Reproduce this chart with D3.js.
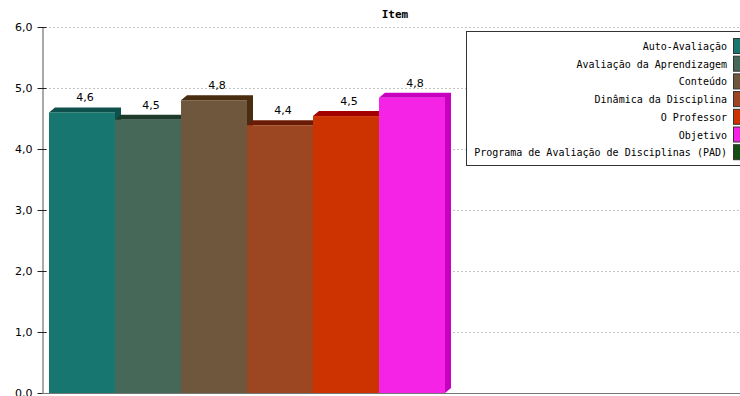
<!DOCTYPE html>
<meta charset="utf-8">
<style>
    body { margin: 0; background: #fff; }
    text { font: 11px "DejaVu Sans", sans-serif; fill: #000; }
    .title { font: bold 11px "DejaVu Sans Mono", monospace; text-anchor: middle; }
    .legend text { font: 10px "DejaVu Sans Mono", monospace; text-anchor: end; }
    .grid line { stroke: #c4c4c4; stroke-dasharray: 2,2; }
</style>
<svg width="740" height="396"></svg>
<script src="https://cdnjs.cloudflare.com/ajax/libs/d3/7.8.5/d3.min.js"></script>
<script>
    var series = ["Auto-Avaliação", "Avaliação da Aprendizagem", "Conteúdo",
        "Dinâmica da Disciplina", "O Professor", "Objetivo",
        "Programa de Avaliação de Disciplinas (PAD)"];
    var values = [4.6, 4.48, 4.8, 4.39, 4.54, 4.84, null];
    var frontColors = ["#177670", "#466858", "#6f573d", "#9c4622", "#cc3300", "#f523e6", "#134d13"];
    var topColors = ["#0e504b", "#1d3b2b", "#4a2c0f", "#6b1b05", "#a30000", "#c800c0", "#0a300a"];
    var yTicks = [0, 1, 2, 3, 4, 5, 6];

    var svg = d3.select("svg"),
        width = +svg.attr("width");

    var dx = 6, dy = 5;
    var fmt = function(v) { return d3.format(".1f")(v).replace(".", ","); };

    var x = d3.scaleBand()
        .domain(series)
        .range([49, 49 + 66 * series.length])
        .padding(0);

    var y = d3.scaleLinear()
        .domain([0, 6])
        .range([393, 27]);

    // title
    svg.append("text")
        .attr("class", "title")
        .attr("x", 395)
        .attr("y", 18)
        .text("Item");

    // dotted gridlines
    svg.append("g")
        .attr("class", "grid")
        .selectAll("line")
        .data(yTicks.slice(1))
        .enter().append("line")
        .attr("x1", 45)
        .attr("x2", width)
        .attr("y1", function(d) { return Math.round(y(d)) + 0.5; })
        .attr("y2", function(d) { return Math.round(y(d)) + 0.5; });

    // y axis
    var yAxis = d3.axisLeft(y)
        .tickValues(yTicks)
        .tickFormat(fmt)
        .tickSizeInner(4)
        .tickSizeOuter(0)
        .tickPadding(5);

    var ga = svg.append("g")
        .attr("transform", "translate(42.5,0)")
        .call(yAxis);
    ga.select(".domain").attr("stroke", "#555");
    ga.selectAll(".tick line").attr("x2", 4).attr("x1", -5).attr("stroke", "#222");
    ga.selectAll(".tick text")
        .attr("x", -10)
        .style("font", "11px 'DejaVu Sans', sans-serif")
        .attr("fill", "#000");

    // base line
    svg.append("line")
        .attr("x1", 42)
        .attr("x2", width)
        .attr("y1", 393.5)
        .attr("y2", 393.5)
        .attr("stroke", "#777");

    // 3D bars
    var data = series.map(function(s, i) {
        return { name: s, value: values[i], front: frontColors[i], top: topColors[i] };
    }).filter(function(d) { return d.value != null; });

    var bars = svg.append("g")
        .selectAll("g")
        .data(data)
        .enter().append("g");

    bars.append("path")
        .attr("fill", function(d) { return d.top; })
        .attr("d", function(d) {
            var x0 = x(d.name), x1 = x0 + x.bandwidth(), yt = y(d.value), yb = y(0);
            return "M" + x1 + "," + yb + "L" + x1 + "," + yt + "L" + (x0 + dx) + "," + (yt - dy) +
                "L" + (x1 + dx) + "," + (yt - dy) + "L" + (x1 + dx) + "," + (yb - dy) + "Z" +
                "M" + x0 + "," + yt + "L" + (x0 + dx) + "," + (yt - dy) + "L" + x1 + "," + yt + "Z";
        });

    bars.append("rect")
        .attr("x", function(d) { return x(d.name); })
        .attr("y", function(d) { return y(d.value); })
        .attr("width", x.bandwidth())
        .attr("height", function(d) { return y(0) - y(d.value); })
        .attr("fill", function(d) { return d.front; });

    bars.append("text")
        .attr("x", function(d) { return x(d.name) + x.bandwidth() / 2 + dx / 2; })
        .attr("y", function(d) { return y(d.value) - dy - 6; })
        .attr("text-anchor", "middle")
        .text(function(d) { return fmt(d.value); });

    // legend
    var legend = svg.append("g").attr("class", "legend");
    legend.append("rect")
        .attr("x", 466.5)
        .attr("y", 31.5)
        .attr("width", 300)
        .attr("height", 134)
        .attr("fill", "#fff")
        .attr("stroke", "#333");

    var item = legend.selectAll("g.item")
        .data(series)
        .enter().append("g")
        .attr("class", "item")
        .attr("transform", function(d, i) { return "translate(0," + (46 + i * 17.7) + ")"; });

    item.append("text")
        .attr("x", 727)
        .attr("y", 4)
        .text(function(d) { return d; });

    item.append("rect")
        .attr("x", 733.5)
        .attr("y", -7.5)
        .attr("width", 9)
        .attr("height", 15)
        .attr("fill", function(d, i) { return frontColors[i]; })
        .attr("stroke", "#333");
</script>
